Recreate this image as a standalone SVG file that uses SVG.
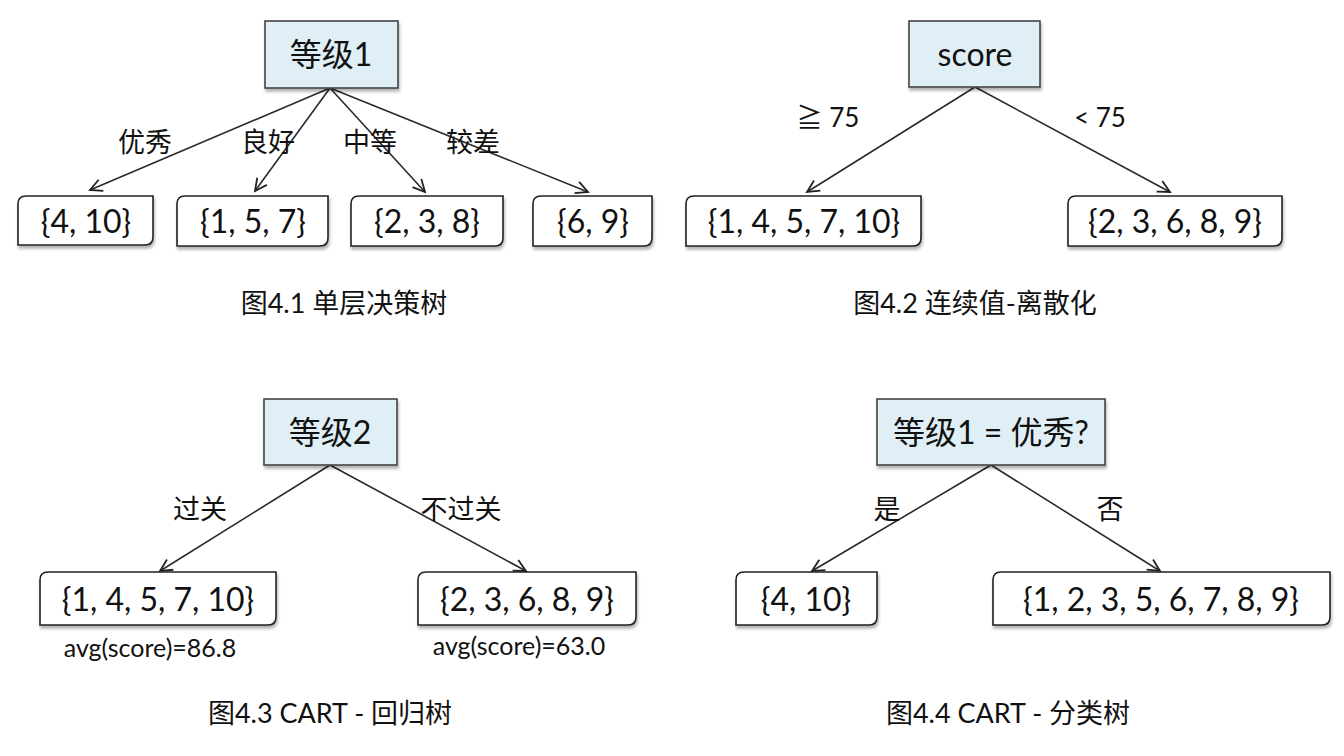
<svg xmlns="http://www.w3.org/2000/svg" width="1344" height="756" viewBox="0 0 1344 756">
<defs>
<marker id="arr" markerWidth="16" markerHeight="16" viewBox="-14 -8 16 16" refX="0" refY="0" orient="auto" markerUnits="userSpaceOnUse">
<path d="M-12,-6 L0,0 L-12,6" fill="none" stroke="#222" stroke-width="1.8"/>
</marker>
<filter id="sh" x="-10%" y="-10%" width="130%" height="140%">
<feDropShadow dx="1" dy="3" stdDeviation="1.5" flood-color="#000" flood-opacity="0.3"/>
</filter>
</defs>
<style>
.root{fill:#e0eff5;stroke:#444;stroke-width:1.6;filter:url(#sh)}
.leaf{fill:#fff;stroke:#222;stroke-width:1.6;filter:url(#sh)}
.edge{stroke:#2a2a2a;stroke-width:1.6;fill:none;marker-end:url(#arr)}
text{font-family:Lato,"Noto Sans CJK SC",sans-serif;fill:#111;text-anchor:middle}
.rt{font-size:32px}
.lt{font-size:32px}
.lb{font-size:27px}
.lbn{font-size:26px}
.cap{font-size:27px}
.avg{font-size:25px}
</style>
<g id="connectors">
<line class="edge" x1="330" y1="88" x2="90" y2="190"/>
<line class="edge" x1="330" y1="88" x2="255" y2="191"/>
<line class="edge" x1="330" y1="88" x2="425" y2="192"/>
<line class="edge" x1="330" y1="88" x2="588" y2="192"/>
<line class="edge" x1="975" y1="87" x2="807" y2="192"/>
<line class="edge" x1="975" y1="87" x2="1170" y2="192"/>
<line class="edge" x1="330" y1="465" x2="160" y2="571"/>
<line class="edge" x1="330" y1="465" x2="526" y2="571"/>
<line class="edge" x1="991" y1="465" x2="812" y2="571"/>
<line class="edge" x1="991" y1="465" x2="1160" y2="571"/>
</g>
<g id="labels">
<text class="lb" x="145" y="152">优秀</text>
<text class="lb" x="268" y="152">良好</text>
<text class="lb" x="370" y="152">中等</text>
<text class="lb" x="473" y="152">较差</text>
<text class="lbn" x="828" y="127">≧ 75</text>
<text class="lbn" x="1100" y="127">&lt; 75</text>
<text class="lb" x="200" y="519">过关</text>
<text class="lb" x="461" y="519">不过关</text>
<text class="lb" x="887" y="519">是</text>
<text class="lb" x="1110" y="519">否</text>
</g>
<g id="n1root"><rect class="root" x="265" y="21" width="133" height="67"/><text class="rt" x="331" y="66">等级1</text></g>
<g id="n1a"><path class="leaf" d="M18,204 Q18,196 26,196 H153 V237 Q153,245 145,245 H18 Z"/><text class="lt" x="86" y="233">{4, 10}</text></g>
<g id="n1b"><path class="leaf" d="M177,204 Q177,196 185,196 H328 V238 Q328,246 320,246 H177 Z"/><text class="lt" x="253" y="233">{1, 5, 7}</text></g>
<g id="n1c"><path class="leaf" d="M351,204 Q351,196 359,196 H503 V238 Q503,246 495,246 H351 Z"/><text class="lt" x="427" y="233">{2, 3, 8}</text></g>
<g id="n1d"><path class="leaf" d="M533,204 Q533,196 541,196 H652 V238 Q652,246 644,246 H533 Z"/><text class="lt" x="593" y="233">{6, 9}</text></g>
<text class="cap" x="344" y="313">图4.1 单层决策树</text>

<g id="n2root"><rect class="root" x="909" y="21" width="131" height="66"/><text class="rt" x="975" y="66">score</text></g>
<g id="n2a"><path class="leaf" d="M686,204 Q686,196 694,196 H921 V238 Q921,246 913,246 H686 Z"/><text class="lt" x="804" y="233">{1, 4, 5, 7, 10}</text></g>
<g id="n2b"><path class="leaf" d="M1068,204 Q1068,196 1076,196 H1282 V238 Q1282,246 1274,246 H1068 Z"/><text class="lt" x="1175" y="233">{2, 3, 6, 8, 9}</text></g>
<text class="cap" x="975" y="313">图4.2 连续值-离散化</text>

<g id="n3root"><rect class="root" x="264" y="399" width="133" height="66"/><text class="rt" x="330" y="444">等级2</text></g>
<g id="n3a"><path class="leaf" d="M40,580 Q40,572 48,572 H276 V617 Q276,625 268,625 H40 Z"/><text class="lt" x="158" y="611">{1, 4, 5, 7, 10}</text></g>
<g id="n3b"><path class="leaf" d="M418,580 Q418,572 426,572 H636 V617 Q636,625 628,625 H418 Z"/><text class="lt" x="527" y="611">{2, 3, 6, 8, 9}</text></g>
<text class="avg" x="150" y="657">avg(score)=86.8</text>
<text class="avg" x="519" y="655">avg(score)=63.0</text>
<text class="cap" x="330" y="723">图4.3 CART - 回归树</text>

<g id="n4root"><rect class="root" x="877" y="399" width="228" height="66"/><text class="rt" x="991" y="444">等级1 = 优秀?</text></g>
<g id="n4a"><path class="leaf" d="M736,580 Q736,572 744,572 H877 V617 Q877,625 869,625 H736 Z"/><text class="lt" x="806" y="611">{4, 10}</text></g>
<g id="n4b"><path class="leaf" d="M993,580 Q993,572 1001,572 H1330 V617 Q1330,625 1322,625 H993 Z"/><text class="lt" x="1161" y="611">{1, 2, 3, 5, 6, 7, 8, 9}</text></g>
<text class="cap" x="1008" y="723">图4.4 CART - 分类树</text>
</svg>
